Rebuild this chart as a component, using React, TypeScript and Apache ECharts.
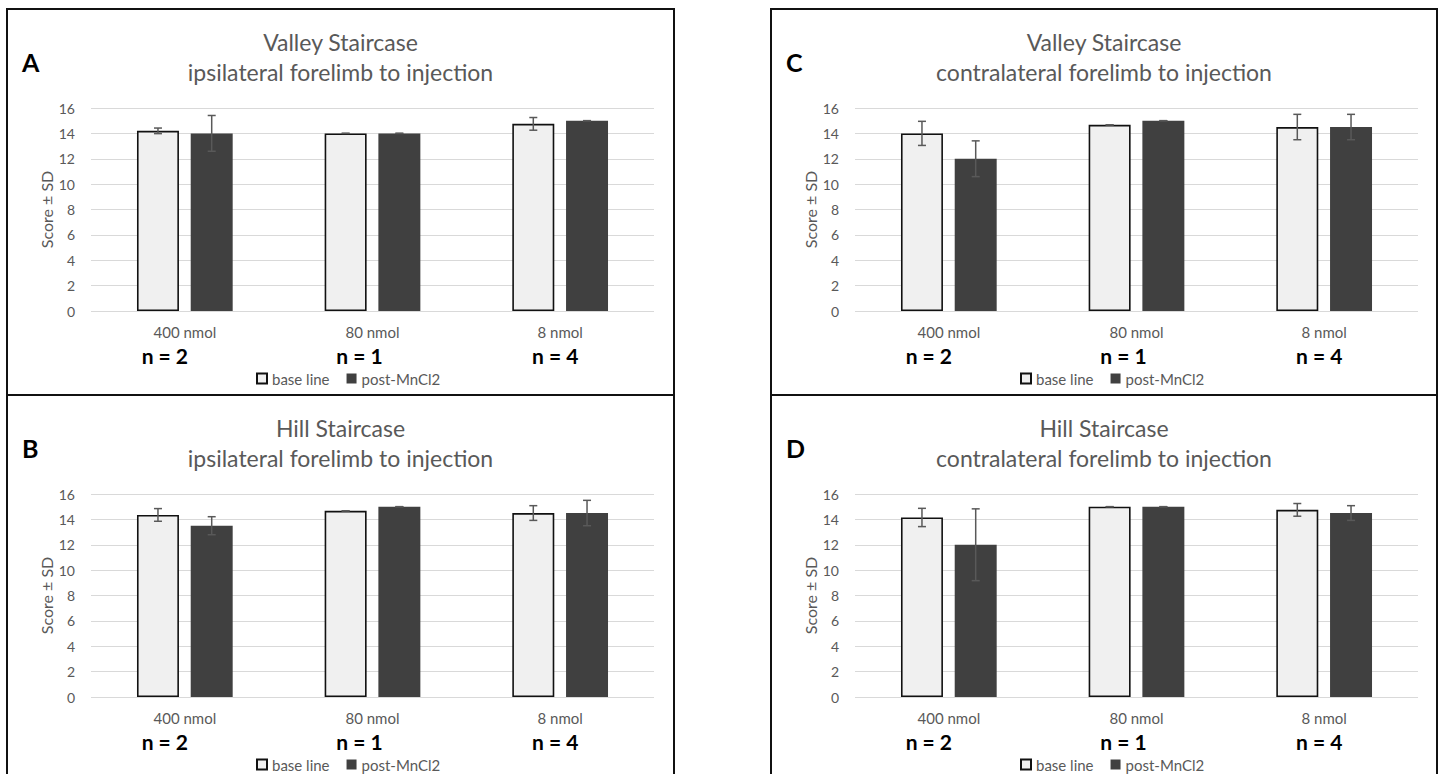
import React, { useEffect, useRef } from "react";
import * as echarts from "echarts";

// ---- data ----
const categories = ["400 nmol", "80 nmol", "8 nmol"];
const nLabels = ["n = 2", "n = 1", "n = 4"];
const seriesNames = ["base line", "post-MnCl2"];
const yMin = 0;
const yMax = 16;
const yInterval = 2;
const yAxisName = "Score ± SD";

const panelLetters = ["A", "B", "C", "D"];
const panelTitles = ["Valley Staircase", "Hill Staircase", "Valley Staircase", "Hill Staircase"];
const panelSubtitles = [
  "ipsilateral forelimb to injection",
  "ipsilateral forelimb to injection",
  "contralateral forelimb to injection",
  "contralateral forelimb to injection",
];

const baselineA = [14.2, 14.0, 14.75];
const sdBaselineA = [0.22, 0, 0.5];
const postA = [14.0, 14.0, 15.0];
const sdPostA = [1.41, 0, 0];

const baselineB = [14.35, 14.67, 14.5];
const sdBaselineB = [0.5, 0, 0.58];
const postB = [13.5, 15.0, 14.5];
const sdPostB = [0.71, 0, 1.0];

const baselineC = [14.0, 14.67, 14.5];
const sdBaselineC = [0.95, 0, 1.0];
const postC = [12.0, 15.0, 14.5];
const sdPostC = [1.41, 0, 1.0];

const baselineD = [14.15, 15.0, 14.75];
const sdBaselineD = [0.72, 0, 0.5];
const postD = [12.0, 15.0, 14.5];
const sdPostD = [2.83, 0, 0.58];

const panelData = [
  { base: baselineA, sdBase: sdBaselineA, post: postA, sdPost: sdPostA },
  { base: baselineB, sdBase: sdBaselineB, post: postB, sdPost: sdPostB },
  { base: baselineC, sdBase: sdBaselineC, post: postC, sdPost: sdPostC },
  { base: baselineD, sdBase: sdBaselineD, post: postD, sdPost: sdPostD },
];

// ---- layout / style ----
const FONT = "Lato, 'Open Sans', sans-serif";
const GRAY = "#595959";
const BASE_FILL = "#f0f0f0";
const POST_FILL = "#404040";
const CAT_GAP = 0.49;
const BAR_GAP = 0.28;

const panels = [
  { box: [7, 9, 667, 386], gridLeft: 91, gridTop: 108 },
  { box: [7, 395, 667, 386], gridLeft: 91, gridTop: 494 },
  { box: [771, 9, 666, 386], gridLeft: 855, gridTop: 108 },
  { box: [771, 395, 666, 386], gridLeft: 855, gridTop: 494 },
];
const GRID_W = 563;
const GRID_H = 203;
const nOffsets = [-20, -13, -5];

function errorRenderer(sign: number) {
  return (params: any, api: any) => {
    const cat = api.value(0);
    const mean = api.value(1);
    const sd = api.value(2);
    const band = api.size([1, 0])[0];
    const barW = (band * (1 - CAT_GAP)) / (2 + BAR_GAP);
    const off = ((barW + barW * BAR_GAP) / 2) * sign;
    const top = api.coord([cat, mean + sd]);
    const bot = api.coord([cat, mean - sd]);
    const x = top[0] + off;
    const cap = 4;
    const style = { stroke: GRAY, lineWidth: 1.5 };
    return {
      type: "group",
      children: [
        { type: "line", shape: { x1: x, y1: top[1], x2: x, y2: bot[1] }, style },
        { type: "line", shape: { x1: x - cap, y1: top[1], x2: x + cap, y2: top[1] }, style },
        { type: "line", shape: { x1: x - cap, y1: bot[1], x2: x + cap, y2: bot[1] }, style },
      ],
    };
  };
}

function buildOption() {
  const grid: any[] = [];
  const xAxis: any[] = [];
  const yAxis: any[] = [];
  const series: any[] = [];
  const legend: any[] = [];
  const graphic: any[] = [];

  panels.forEach((p, i) => {
    grid.push({ left: p.gridLeft, top: p.gridTop, width: GRID_W, height: GRID_H });
    xAxis.push({
      type: "category",
      gridIndex: i,
      data: categories,
      axisLine: { show: false },
      axisTick: { show: false },
      axisLabel: { color: GRAY, fontSize: 15, fontFamily: FONT, margin: 13 },
    });
    yAxis.push({
      type: "value",
      gridIndex: i,
      min: yMin,
      max: yMax,
      interval: yInterval,
      name: yAxisName,
      nameLocation: "middle",
      nameGap: 37,
      nameTextStyle: { color: GRAY, fontSize: 16, fontFamily: FONT },
      axisLine: { show: false },
      axisTick: { show: false },
      axisLabel: { color: GRAY, fontSize: 14, fontFamily: FONT, margin: 16 },
      splitLine: { lineStyle: { color: "#d9d9d9", width: 1.2 } },
    });
    const d = panelData[i];
    series.push({
      type: "bar",
      name: seriesNames[0],
      xAxisIndex: i,
      yAxisIndex: i,
      data: d.base,
      barCategoryGap: "49%",
      barGap: "28%",
      itemStyle: { color: BASE_FILL, borderColor: "#111", borderWidth: 1.6 },
    });
    series.push({
      type: "bar",
      name: seriesNames[1],
      xAxisIndex: i,
      yAxisIndex: i,
      data: d.post,
      barCategoryGap: "49%",
      barGap: "28%",
      itemStyle: { color: POST_FILL },
    });
    series.push({
      type: "custom",
      name: "base SD",
      xAxisIndex: i,
      yAxisIndex: i,
      z: 5,
      encode: { x: 0, y: 1 },
      data: d.base.map((v, k) => [k, v, d.sdBase[k]]),
      renderItem: errorRenderer(-1),
    });
    series.push({
      type: "custom",
      name: "post SD",
      xAxisIndex: i,
      yAxisIndex: i,
      z: 5,
      encode: { x: 0, y: 1 },
      data: d.post.map((v, k) => [k, v, d.sdPost[k]]),
      renderItem: errorRenderer(1),
    });

    const [bx, by, bw, bh] = p.box;
    legend.push({
      data: seriesNames,
      left: bx + 249,
      top: by + 362,
      padding: 0,
      itemWidth: 10,
      itemHeight: 10,
      itemGap: 17,
      icon: "rect",
      textStyle: { color: GRAY, fontSize: 15, fontFamily: FONT },
    });

    graphic.push({
      type: "rect",
      shape: { x: bx, y: by, width: bw, height: bh },
      style: { fill: "none", stroke: "#111", lineWidth: 2 },
      z: 10,
    });
    graphic.push({
      type: "text",
      x: bx + 15,
      y: by + 53,
      style: {
        text: panelLetters[i],
        font: `bold 25px ${FONT}`,
        fill: "#000",
        align: "left",
        verticalAlign: "middle",
      },
    });
    const cx = bx + bw / 2;
    graphic.push({
      type: "text",
      x: cx,
      y: by + 33,
      style: { text: panelTitles[i], font: `23px ${FONT}`, fill: GRAY, align: "center", verticalAlign: "middle" },
    });
    graphic.push({
      type: "text",
      x: cx,
      y: by + 63,
      style: { text: panelSubtitles[i], font: `23px ${FONT}`, fill: GRAY, align: "center", verticalAlign: "middle" },
    });
    const band = GRID_W / categories.length;
    nLabels.forEach((t, k) => {
      graphic.push({
        type: "text",
        x: p.gridLeft + band * (k + 0.5) + nOffsets[k],
        y: p.gridTop + GRID_H + 44,
        style: { text: t, font: `bold 21px ${FONT}`, fill: "#000", align: "center", verticalAlign: "middle" },
      });
    });
  });

  return {
    animation: false,
    backgroundColor: "#ffffff",
    textStyle: { fontFamily: FONT },
    grid,
    xAxis,
    yAxis,
    series,
    legend,
    graphic,
  };
}

export default function App() {
  const ref = useRef<HTMLDivElement>(null);
  useEffect(() => {
    document.body.style.margin = "0";
    document.body.style.overflow = "hidden";
    if (!ref.current) return;
    const chart = echarts.init(ref.current, undefined, { renderer: "svg" });
    chart.setOption(buildOption() as any);
    return () => chart.dispose();
  }, []);
  return <div ref={ref} style={{ width: 1441, height: 774, position: "absolute", left: 0, top: 0 }} />;
}
